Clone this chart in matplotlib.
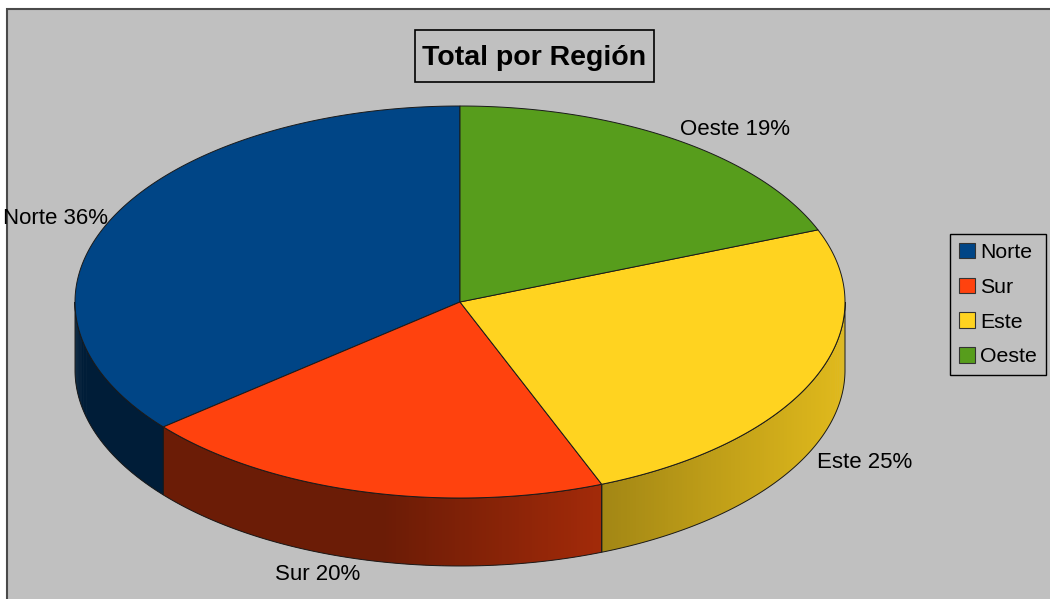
import numpy as np
import matplotlib.pyplot as plt
from matplotlib.patches import Polygon, Rectangle, Patch
from matplotlib.colors import to_rgb

plt.rcParams['font.family'] = ['Liberation Sans', 'DejaVu Sans']

# Chart data
regions = ['Norte', 'Sur', 'Este', 'Oeste']
values = [36, 20, 25, 19]
colors = ['#004586', '#ff420e', '#ffd320', '#579d1c']
title = 'Total por Región'

# Pie geometry in pixel units (the axes uses pixel coordinates)
CX, CY = 460, 302      # centre of the top face
RX, RY = 385, 196      # radii of the top ellipse
DEPTH = 68             # thickness of the pie
EDGE = '#1a1a1a'


def ell(theta, drop=0.0):
    """Point on the pie rim for an angle in degrees (0 = right, ccw)."""
    t = np.radians(theta)
    return CX + RX * np.cos(t), CY - RY * np.sin(t) + drop


def shade(theta):
    """Brightness factor of the side wall, lit from the right."""
    c = np.cos(np.radians(theta))
    return 0.42 + 0.46 * np.clip((c + 0.2) / 1.2, 0, 1) ** 1.0


fig = plt.figure(figsize=(10.5, 5.99), dpi=100)
ax = fig.add_axes([0, 0, 1, 1])
ax.set_xlim(0, 1050)
ax.set_ylim(599, 0)
ax.axis('off')

# Grey chart area with a dark border
ax.add_patch(Rectangle((7, 9), 1100, 700, facecolor='#c0c0c0',
                       edgecolor='#4a4a4a', lw=1.5, zorder=0))

values = np.array(values, dtype=float)
spans = 360 * values / values.sum()
starts = 90 + np.cumsum(spans) - spans

# Side walls (only the front half is visible)
for start, span, col in zip(starts, spans, colors):
    base = np.array(to_rgb(col))
    for off in (0, -360):
        lo = max(start + off, 180)
        hi = min(start + span + off, 360)
        if hi <= lo:
            continue
        ts = np.linspace(lo, hi, int((hi - lo) * 2) + 2)
        for t0, t1 in zip(ts[:-1], ts[1:]):
            fc = np.clip(base * shade((t0 + t1) / 2), 0, 1)
            t1x = min(t1 + 0.4, hi)
            quad = [ell(t0), ell(t1x), ell(t1x, DEPTH), ell(t0, DEPTH)]
            ax.add_patch(Polygon(quad, closed=True, facecolor=fc,
                                 edgecolor='none', zorder=1))
        outline = [ell(t) for t in ts] + [ell(t, DEPTH) for t in ts[::-1]]
        ax.add_patch(Polygon(outline, closed=True, fill=False,
                             edgecolor=EDGE, lw=0.7, zorder=2))

# Top faces
for start, span, col in zip(starts, spans, colors):
    ts = np.linspace(start, start + span, int(span * 2) + 2)
    pts = [(CX, CY)] + [ell(t) for t in ts]
    ax.add_patch(Polygon(pts, closed=True, facecolor=col,
                         edgecolor=EDGE, lw=0.7, zorder=3))

# Data labels
for name, start, span, v in zip(regions, starts, spans, values):
    mid = start + span / 2
    x, y = ell(mid)
    s = np.sin(np.radians(mid))
    c = np.cos(np.radians(mid))
    if s < 0:
        y += DEPTH
    ha = 'left' if c > 0 else 'right'
    if s > 0.5:
        va = 'bottom'
    elif s < -0.3:
        va = 'top'
        y += 4
    else:
        va = 'center'
    pct = round(100 * v / values.sum())
    ax.text(x + 4 * np.sign(c), y, f'{name} {pct}%', ha=ha, va=va,
            fontsize=16, color='black', zorder=5)

# Title in a box
ax.add_patch(Rectangle((415, 30), 239, 52, fill=False, edgecolor='black',
                       lw=1.2, zorder=4))
ax.text(534.5, 65, title, ha='center', va='baseline', fontsize=20.5,
        fontweight='bold', zorder=5)

# Legend
handles = [Patch(facecolor=c, edgecolor='#333333', lw=0.8) for c in colors]
leg = fig.legend(handles, regions, loc='upper left',
                 bbox_to_anchor=(950 / 1050, 1 - 234 / 599),
                 frameon=True, fancybox=False, facecolor='#c0c0c0',
                 edgecolor='black', framealpha=1, fontsize=15.3,
                 handlelength=0.75, handleheight=0.75, handletextpad=0.25,
                 labelspacing=0.73, borderpad=0.42, borderaxespad=0)
leg.get_frame().set_linewidth(1.0)

fig.savefig('out.png', dpi=100)
plt.close(fig)
